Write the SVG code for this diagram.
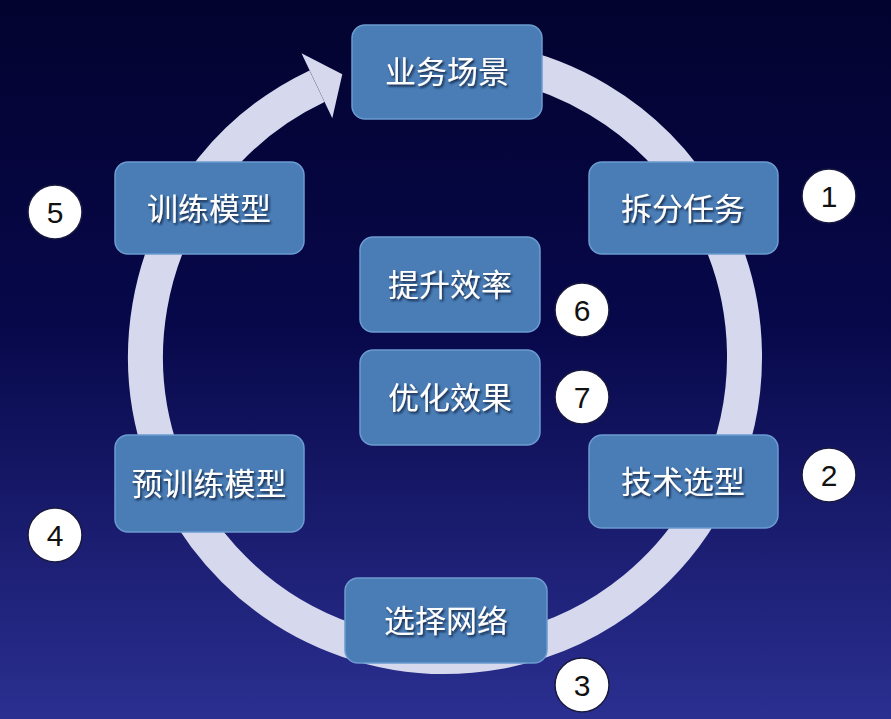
<svg xmlns="http://www.w3.org/2000/svg" width="891" height="719" viewBox="0 0 891 719">
  <defs>
    <linearGradient id="bg" x1="0" y1="0" x2="0" y2="1">
      <stop offset="0" stop-color="#03032f"/>
      <stop offset="0.45" stop-color="#07084a"/>
      <stop offset="1" stop-color="#2b2f90"/>
    </linearGradient>
    <filter id="ts" x="-10%" y="-20%" width="130%" height="150%">
      <feDropShadow dx="1.5" dy="2" stdDeviation="1" flood-color="#0a1a3a" flood-opacity="0.9"/>
    </filter>
  </defs>
  <style>
    .box { fill: #4a7db6; stroke: #6b9bd0; stroke-width: 1.5; }
    .lbl { font-family: "Noto Sans CJK SC", "Noto Sans", sans-serif; font-size: 31px; fill: #ffffff; text-anchor: middle; filter: url(#ts); }
    .num circle { fill: #ffffff; stroke: #1a1a40; stroke-width: 1.5; }
    .num text { font-family: "Liberation Sans", Arial, sans-serif; font-size: 30px; fill: #111111; text-anchor: middle; }
    .ring { fill: none; stroke: #d6d8ee; stroke-width: 35; }
    .head { fill: #d6d8ee; }
  </style>
  <rect x="0" y="0" width="891" height="719" fill="url(#bg)"/>

  <g id="connectors">
    <path class="ring" d="M 471.1 58.6 A 299.5 299.5 0 1 1 317.0 86.2"/>
    <polygon class="head" points="301.5,53.3 342.3,74.2 332.3,118.3"/>
  </g>

  <g id="n-yewu">
    <rect class="box" x="352" y="25" width="190" height="94" rx="13"/>
    <text class="lbl" x="447" y="83">业务场景</text>
  </g>
  <g id="n-chaifen">
    <rect class="box" x="589" y="162" width="189" height="92" rx="13"/>
    <text class="lbl" x="683" y="220">拆分任务</text>
  </g>
  <g id="n-xunlian">
    <rect class="box" x="115" y="162" width="189" height="92" rx="13"/>
    <text class="lbl" x="209" y="220">训练模型</text>
  </g>
  <g id="n-tisheng">
    <rect class="box" x="360" y="237" width="180" height="95" rx="13"/>
    <text class="lbl" x="450" y="296">提升效率</text>
  </g>
  <g id="n-youhua">
    <rect class="box" x="360" y="350" width="180" height="95" rx="13"/>
    <text class="lbl" x="450" y="409">优化效果</text>
  </g>
  <g id="n-jishu">
    <rect class="box" x="589" y="435" width="189" height="93" rx="13"/>
    <text class="lbl" x="683" y="493">技术选型</text>
  </g>
  <g id="n-yuxunlian">
    <rect class="box" x="115" y="435" width="189" height="97" rx="13"/>
    <text class="lbl" x="209" y="495">预训练模型</text>
  </g>
  <g id="n-xuanze">
    <rect class="box" x="345" y="578" width="202" height="85" rx="13"/>
    <text class="lbl" x="446" y="632">选择网络</text>
  </g>

  <g id="num-1" class="num"><circle cx="829" cy="196" r="27"/><text x="829" y="207">1</text></g>
  <g id="num-2" class="num"><circle cx="829" cy="475" r="27"/><text x="829" y="486">2</text></g>
  <g id="num-3" class="num"><circle cx="582" cy="685" r="27"/><text x="582" y="696">3</text></g>
  <g id="num-4" class="num"><circle cx="55" cy="535" r="27"/><text x="55" y="546">4</text></g>
  <g id="num-5" class="num"><circle cx="55" cy="212" r="27"/><text x="55" y="223">5</text></g>
  <g id="num-6" class="num"><circle cx="582" cy="310" r="27"/><text x="582" y="321">6</text></g>
  <g id="num-7" class="num"><circle cx="582" cy="397" r="27"/><text x="582" y="408">7</text></g>
</svg>
